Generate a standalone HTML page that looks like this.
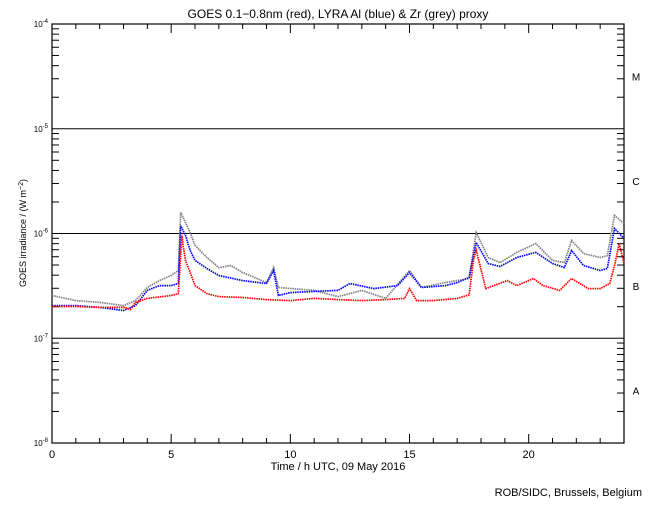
<!DOCTYPE html>
<html><head><meta charset="utf-8"><style>
html,body{margin:0;padding:0;background:#fff}
svg text{font-family:"Liberation Sans",sans-serif;fill:#000}
</style></head><body>
<svg id="chart" width="650" height="500" xmlns="http://www.w3.org/2000/svg">
<text x="338" y="18" font-size="12" text-anchor="middle">GOES 0.1−0.8nm (red), LYRA Al (blue) &amp; Zr (grey) proxy</text>
<text x="338" y="470" font-size="11" text-anchor="middle">Time / h UTC, 09 May 2016</text>
<text transform="translate(26,233) rotate(-90)" font-size="9" text-anchor="middle">GOES irradiance / (W m<tspan baseline-shift="super" font-size="7">−2</tspan>)</text>
<text x="642" y="496" font-size="11" text-anchor="end">ROB/SIDC, Brussels, Belgium</text>
<g id="axes"></g>
<g id="series"></g>
</svg>
<script>
const redHours=[0,1,2,3,3.3,3.5,4,5,5.3,5.45,5.5,5.6,5.8,6,6.5,7,8,9,10,11,12,13,14,14.8,15,15.3,16,17,17.5,17.7,17.8,18.2,19.1,19.5,20.2,20.6,21.3,21.8,22.5,23,23.4,23.6,23.8,24];
const redValues=[2.01e-7,2.01e-7,1.97e-7,1.97e-7,1.88e-7,2.2e-7,2.4e-7,2.56e-7,2.67e-7,9.56e-7,7.68e-7,5.53e-7,4.24e-7,3.18e-7,2.67e-7,2.5e-7,2.45e-7,2.34e-7,2.29e-7,2.4e-7,2.34e-7,2.29e-7,2.34e-7,2.4e-7,2.98e-7,2.29e-7,2.29e-7,2.4e-7,2.6e-7,5.77e-7,6.88e-7,2.98e-7,3.55e-7,3.18e-7,3.72e-7,3.18e-7,2.86e-7,3.72e-7,2.98e-7,2.98e-7,3.33e-7,4.95e-7,8.03e-7,5.17e-7];
const blueHours=[0,1,2,3,3.5,4,4.5,5,5.3,5.4,5.6,5.8,6,6.5,7,8,9,9.3,9.5,10,11,12,12.5,13.5,14.5,15,15.5,16.5,17,17.5,17.8,18.3,18.8,19.5,20.3,21,21.5,21.8,22.3,23,23.3,23.6,24];
const blueValues=[2.05e-7,2.05e-7,1.97e-7,1.84e-7,2.05e-7,2.86e-7,3.18e-7,3.18e-7,3.33e-7,1.19e-6,9.56e-7,6.88e-7,5.53e-7,4.63e-7,3.97e-7,3.55e-7,3.33e-7,4.43e-7,2.56e-7,2.73e-7,2.8e-7,2.86e-7,3.33e-7,2.98e-7,3.18e-7,4.24e-7,3.05e-7,3.18e-7,3.4e-7,3.8e-7,8.2e-7,5.17e-7,4.84e-7,5.9e-7,6.6e-7,5.17e-7,4.73e-7,6.88e-7,4.95e-7,4.43e-7,4.63e-7,1.116e-6,8.96e-7];
const greyHours=[0,1,2,3,3.5,4,4.5,5,5.3,5.4,5.6,5.8,6,6.5,7,7.5,8,9,9.3,9.5,11,12,13,14,15,15.5,16.5,17.5,17.8,18.3,18.8,19.5,20.3,21,21.5,21.8,22.3,23,23.3,23.6,24];
const greyValues=[2.56e-7,2.29e-7,2.2e-7,2.05e-7,2.29e-7,3.05e-7,3.55e-7,3.97e-7,4.43e-7,1.59e-6,1.27e-6,1.02e-6,7.68e-7,5.9e-7,4.73e-7,4.95e-7,4.24e-7,3.4e-7,4.73e-7,3.05e-7,2.86e-7,2.5e-7,2.86e-7,2.4e-7,4.43e-7,3.05e-7,3.4e-7,3.72e-7,1.02e-6,5.9e-7,5.28e-7,6.6e-7,8.03e-7,5.53e-7,5.28e-7,8.57e-7,6.44e-7,5.9e-7,6.14e-7,1.486e-6,1.246e-6];
const xTicks=[0,5,10,15,20];
const yDecades=[-8,-7,-6,-5,-4];
const classLabels=["A","B","C","M"];

const L=52,R=624,T=24,B=443;
const xs=h=>L+h/24*(R-L);
const ys=v=>B-(Math.log10(v)+8)/4*(B-T);
const NS="http://www.w3.org/2000/svg";
const axes=document.getElementById('axes'), series=document.getElementById('series');
function mk(tag,attrs,parent){const e=document.createElementNS(NS,tag);for(const k in attrs)e.setAttribute(k,attrs[k]);parent.appendChild(e);return e;}
function line(x1,y1,x2,y2,name){const e=mk('line',{x1,y1,x2,y2,stroke:'#000','stroke-width':1},axes);

return e;}
const frame=mk('rect',{x:L,y:T,width:R-L,height:B-T,fill:'none',stroke:'#000','stroke-width':1.2},axes);


for(let h=0;h<=24;h++){const x=xs(h);const len=h%5===0?9:5;
line(x,B,x,B-len,'x-tick');line(x,T,x,T+len,'x-tick-top');}
xTicks.forEach(h=>{const t=mk('text',{x:xs(h),y:458,'font-size':11,'text-anchor':'middle'},axes);t.textContent=h;

});
yDecades.forEach((d,i)=>{const y=ys(Math.pow(10,d));
const t=mk('text',{x:48,y:y+3,'font-size':8,'text-anchor':'end'},axes);t.innerHTML='10<tspan dy="-4" font-size="6">'+d+'</tspan>';


if(d>-8&&d<-4)line(L,y,R,y,'class-threshold-line');
if(i<4){for(let m=2;m<=9;m++){const yy=ys(m*Math.pow(10,d));line(L,yy,L+7,yy,'y-minor-tick');line(R,yy,R-7,yy,'y-minor-tick-right');}
const c=mk('text',{x:636,y:ys(Math.pow(10,d+0.5))+4,'font-size':10,'text-anchor':'middle'},axes);c.textContent=classLabels[i];

}
});
function draw(hours,vals,color,name){
const pts=hours.map((h,i)=>xs(h).toFixed(1)+','+ys(vals[i]).toFixed(1)).join(' ');
const p=mk('polyline',{points:pts,fill:'none',stroke:color,'stroke-width':1.7,'stroke-dasharray':'1.5 0.8'},series);

}
draw(greyHours,greyValues,'#808080','zr-proxy-series');
draw(blueHours,blueValues,'#0000ff','al-proxy-series');
draw(redHours,redValues,'#ff0000','goes-series');
</script>
</body></html>
